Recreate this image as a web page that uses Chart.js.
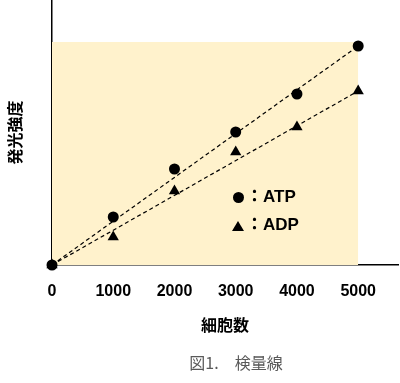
<!DOCTYPE html>
<html><head><meta charset="utf-8">
<script src="https://cdn.jsdelivr.net/npm/chart.js@4.4.1/dist/chart.umd.min.js"></script>
<style>
html,body{margin:0;padding:0;background:#fff;}
#wrap{position:relative;width:400px;height:383px;overflow:hidden;}
canvas{position:absolute;left:0;top:0;}
.lg{position:absolute;font:bold 17px "Liberation Sans","Noto Sans CJK JP",sans-serif;color:#000;line-height:20px;white-space:nowrap;}
.dot{position:absolute;width:11px;height:11px;border-radius:50%;background:#000;}
.tri{position:absolute;width:0;height:0;border-left:6px solid transparent;border-right:6px solid transparent;border-bottom:10px solid #000;}
#cap{position:absolute;left:0;width:472px;text-align:center;top:352px;font:16px "Noto Sans CJK JP",sans-serif;color:#595959;line-height:20px;}
</style></head><body>
<div id="wrap">
<canvas id="c" width="400" height="383"></canvas>
<div class="dot" style="left:233px;top:192px;"></div>
<div class="lg" style="left:246px;top:187px;">：ATP</div>
<div class="tri" style="left:232px;top:221px;"></div>
<div class="lg" style="left:246px;top:215px;">：ADP</div>
<div id="cap">図1.　検量線</div>
</div>
<script>
const cellCounts = [0, 1000, 2000, 3000, 4000, 5000];
const atpValues = [0, 48, 96, 133, 171, 219];
const adpValues = [0, 28, 74, 113, 138, 174];
const atpFit = [[0, 0], [5000, 219]];
const adpFit = [[0, 0], [5000, 174]];
const xTicks = [0, 1000, 2000, 3000, 4000, 5000];
const shadeRange = [[0, 223], [5000, 223]];
const xAxisMax = 5650;
const yAxisMax = 265;

const pts = (xs, ys) => xs.map((x, i) => ({x: x, y: ys[i]}));
const pairs = arr => arr.map(p => ({x: p[0], y: p[1]}));

new Chart(document.getElementById('c'), {
  type: 'scatter',
  data: {
    datasets: [
      {type: 'line', data: pairs(shadeRange), fill: 'origin', backgroundColor: '#FFF2CC',
       borderWidth: 0, pointRadius: 0, order: 10, clip: false},
      {type: 'line', data: pairs(atpFit), borderColor: '#000', borderWidth: 1.2, borderDash: [4, 3],
       pointRadius: 0, fill: false, order: 5, clip: false},
      {type: 'line', data: pairs(adpFit), borderColor: '#000', borderWidth: 1.2, borderDash: [4, 3],
       pointRadius: 0, fill: false, order: 5, clip: false},
      {label: 'ADP', data: pts(cellCounts, adpValues), pointStyle: 'triangle', pointRadius: 6.5,
       backgroundColor: '#000', borderColor: '#000', borderWidth: 0, order: 2, clip: false},
      {label: 'ATP', data: pts(cellCounts, atpValues), pointStyle: 'circle', pointRadius: 5.5,
       backgroundColor: '#000', borderColor: '#000', borderWidth: 0, order: 1, clip: false}
    ]
  },
  options: {
    responsive: false,
    animation: false,
    layout: {autoPadding: false, padding: {left: 0, right: 2, top: 0, bottom: 0}},
    plugins: {legend: {display: false}, tooltip: {enabled: false}},
    scales: {
      x: {
        type: 'linear', min: 0, max: xAxisMax,
        afterBuildTicks: s => { s.ticks = xTicks.map(v => ({value: v})); },
        afterFit: s => { s.height = 118; },
        grid: {display: false, drawTicks: false},
        border: {display: true, color: '#000', width: 1.5},
        ticks: {color: '#000', padding: 17, callback: v => String(v),
                font: {family: '"Liberation Sans", sans-serif', size: 16, weight: 'bold'}},
        title: {display: true, text: '細胞数', color: '#000',
                font: {family: '"Noto Sans CJK JP", sans-serif', size: 16, weight: 'bold'},
                padding: {top: 0, bottom: 48}}
      },
      y: {
        type: 'linear', min: 0, max: yAxisMax,
        afterFit: s => { s.width = 52; },
        grid: {display: false, drawTicks: false},
        border: {display: true, color: '#000', width: 1.5},
        ticks: {display: false},
        title: {display: true, text: '発光強度', color: '#000',
                font: {family: '"Noto Sans CJK JP", sans-serif', size: 16, weight: 'bold'},
                padding: {top: 5, bottom: 0}}
      }
    }
  }
});
</script>
</body></html>
